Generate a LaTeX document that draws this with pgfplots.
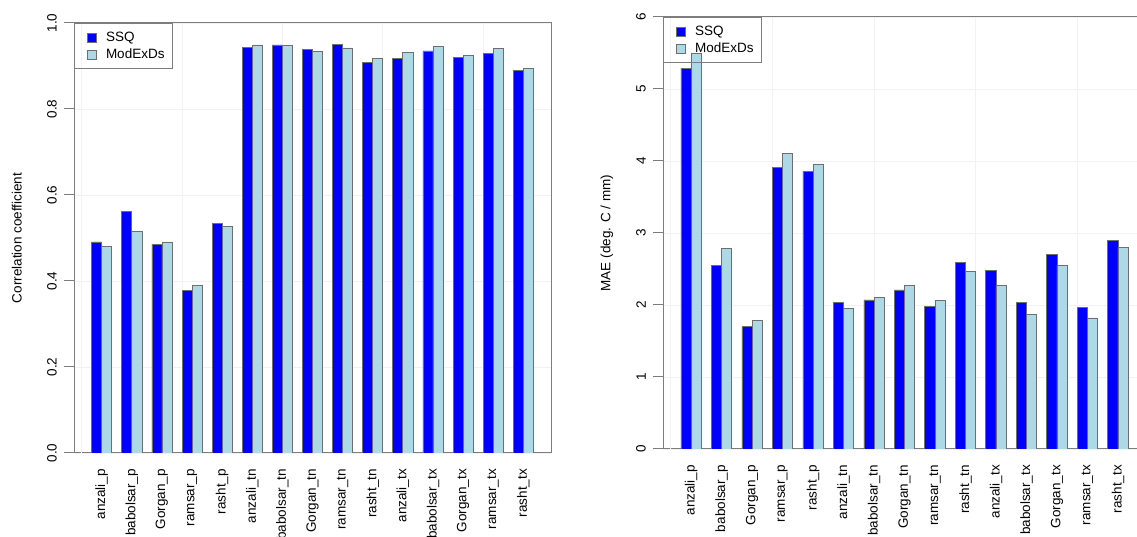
\documentclass[border=0pt]{standalone}
\usepackage{fontspec}
\setmainfont{Liberation Sans}
\usepackage{pgfplots}
\pgfplotsset{compat=1.18}
\definecolor{rblue}{RGB}{0,0,255}
\definecolor{rlightblue}{RGB}{173,216,230}
\definecolor{axgray}{RGB}{125,125,125}
\definecolor{bargray}{RGB}{110,110,110}
\newcommand{\fs}{\fontsize{13.5}{15}\selectfont}

\pgfplotsset{
  rstyle/.style={
    scale only axis,
    ybar, bar width=1,
    xmin=-0.76, xmax=46.76,
    xtick={2,5,8,11,14,17,20,23,26,29,32,35,38,41,44},
    xticklabels={anzali\_p,babolsar\_p,Gorgan\_p,ramsar\_p,rasht\_p,anzali\_tn,babolsar\_tn,Gorgan\_tn,ramsar\_tn,rasht\_tn,anzali\_tx,babolsar\_tx,Gorgan\_tx,ramsar\_tx,rasht\_tx},
    x tick label style={rotate=90, anchor=east, font=\fs, inner xsep=6pt, inner ysep=0pt},
    xtick style={draw=none},
    tick align=outside,
    major tick length=10pt,
    ytick pos=left,
    y tick label style={rotate=90, anchor=south, font=\fs, inner xsep=0pt, inner ysep=7pt},
    axis line style={axgray, line width=1pt},
    ytick style={axgray, line width=1pt},
    ymajorgrids, grid style={gray!10, line width=0.6pt},
    extra x ticks={0,10,20,30,40}, extra x tick labels={},
    extra x tick style={grid=major, tick style={draw=none}},
    ylabel style={font=\fs, anchor=center, rotate=0},
    legend style={at={(0,1)}, anchor=north west, draw=axgray, line width=1pt, fill=none,
      font=\fs, inner xsep=6pt, inner ysep=7pt, row sep=3pt,
      nodes={inner sep=1.5pt}},
    legend cell align=left,
  },
  ssq/.style={fill=rblue, draw=bargray, line width=0.7pt, bar shift=-0.5,
    legend image code/.code={\fill[draw=none] (0pt,0pt) circle (0pt); \draw[fill=rblue, draw=bargray, line width=0.7pt] (7pt,-4.5pt) rectangle (16pt,4.5pt); \path[draw=none, fill=none] (0pt,0pt) -- (24pt,0pt);}},
  mod/.style={fill=rlightblue, draw=bargray, line width=0.7pt, bar shift=0.5,
    legend image code/.code={\draw[fill=rlightblue, draw=bargray, line width=0.7pt] (7pt,-4.5pt) rectangle (16pt,4.5pt); \path[draw=none, fill=none] (0pt,0pt) -- (24pt,0pt);}},
}

\begin{document}
\begin{tikzpicture}
\path[use as bounding box] (0pt,0pt) rectangle (1137pt,537pt);

\begin{axis}[rstyle,
  at={(74pt,84pt)}, anchor=south west,
  width=477pt, height=430pt,
  ymin=0, ymax=1,
  ytick={0,0.2,0.4,0.6,0.8,1.0},
  yticklabels={0.0,0.2,0.4,0.6,0.8,1.0},
  ylabel={Correlation coefficient},
  ylabel style={at={(axis description cs:-0.12,0.5)}},
]
\addplot[ssq] coordinates {(2,0.491) (5,0.561) (8,0.485) (11,0.378) (14,0.534) (17,0.944) (20,0.949) (23,0.939) (26,0.951) (29,0.909) (32,0.917) (35,0.935) (38,0.919) (41,0.930) (44,0.889)};
\addplot[mod] coordinates {(2,0.480) (5,0.516) (8,0.491) (11,0.389) (14,0.526) (17,0.949) (20,0.947) (23,0.934) (26,0.942) (29,0.917) (32,0.932) (35,0.946) (38,0.925) (41,0.940) (44,0.895)};
\legend{SSQ,ModExDs}
\end{axis}

\begin{axis}[rstyle,
  at={(663pt,88pt)}, anchor=south west,
  width=483pt, height=432pt,
  ymin=0, ymax=6,
  ytick={0,1,2,3,4,5,6},
  yticklabels={0,1,2,3,4,5,6},
  ylabel={MAE (deg. C / mm)},
  ylabel style={at={(axis description cs:-0.116,0.5)}},
]
\addplot[ssq] coordinates {(2,5.29) (5,2.55) (8,1.70) (11,3.91) (14,3.86) (17,2.03) (20,2.07) (23,2.21) (26,1.98) (29,2.59) (32,2.48) (35,2.03) (38,2.70) (41,1.97) (44,2.90)};
\addplot[mod] coordinates {(2,5.49) (5,2.78) (8,1.78) (11,4.10) (14,3.95) (17,1.96) (20,2.10) (23,2.27) (26,2.06) (29,2.47) (32,2.27) (35,1.87) (38,2.55) (41,1.82) (44,2.80)};
\legend{SSQ,ModExDs}
\end{axis}
\end{tikzpicture}
\end{document}
